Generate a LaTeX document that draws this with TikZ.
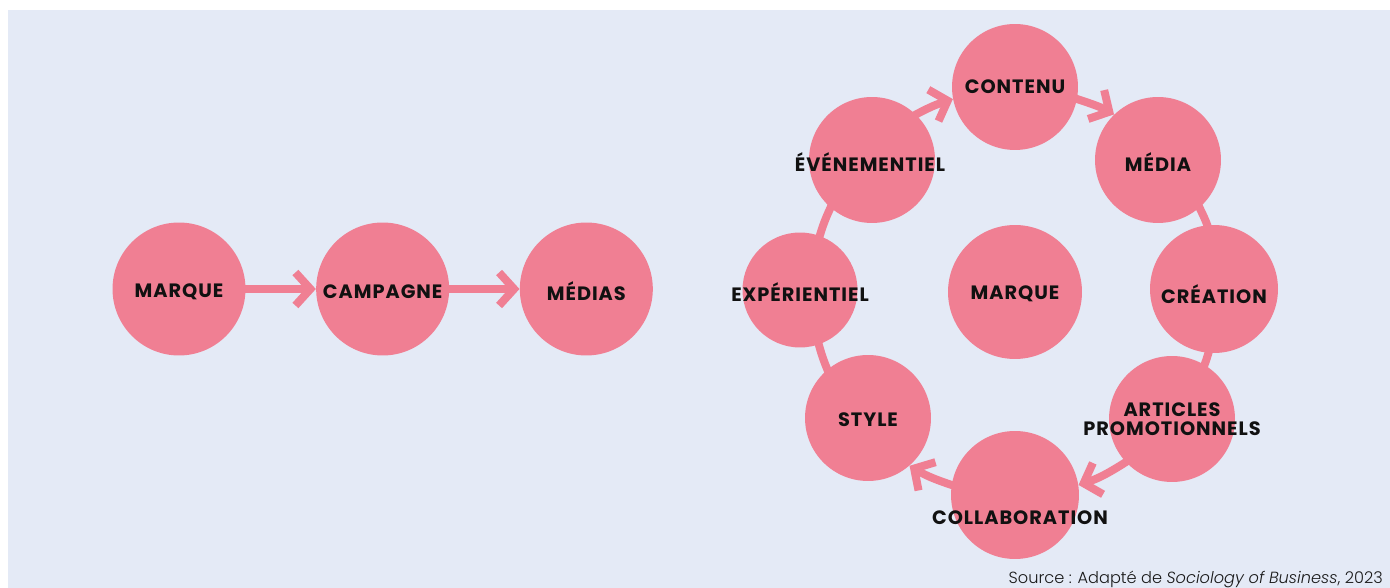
\documentclass[tikz,border=0pt]{standalone}
\usepackage{fontspec}
\setmainfont{Poppins}
\newfontfamily\thinfont{Poppins}[UprightFont=* Light, ItalicFont=* Light Italic]
\usetikzlibrary{positioning, arrows.meta}
\definecolor{rose}{HTML}{F07F93}
\definecolor{panel}{HTML}{E4EAF6}
\definecolor{ink}{HTML}{111111}

\begin{document}
\begin{tikzpicture}[
    x=0.02cm, y=0.02cm,
    disc/.style={circle, fill=rose, inner sep=0pt, minimum size=2.52cm},
    tag/.style={font=\bfseries\fontsize{11}{10.5}\selectfont\addfontfeatures{LetterSpace=5},
      text=ink, align=center, inner sep=0pt},
    link/.style={draw=rose, line width=0.16cm, shorten <=-0.1cm, shorten >=-0.1cm},
    flow/.style={draw=rose, line width=0.16cm, shorten <=-0.1cm,
      -{Straight Barb[length=0.3cm, width=0.66cm, sharp]}}
]
  \useasboundingbox (0,0) rectangle (1390,588);
  \fill[panel] (8,0) rectangle (1390,578);

  % chaine lineaire
  \node[disc, minimum size=2.66cm] (marque) at (179,299) {};
  \node[disc, minimum size=2.66cm, right=1.4cm of marque] (campagne) {};
  \node[disc, minimum size=2.66cm, right=1.4cm of campagne] (medias) {};

  \draw[flow] (marque) -- (campagne);
  \draw[flow] (campagne) -- (medias);

  \node[tag] (marque-l) at ([yshift=-0.06cm]marque) {MARQUE};
  \node[tag] (campagne-l) at ([yshift=-0.06cm]campagne) {CAMPAGNE};
  \node[tag] (medias-l) at ([yshift=-0.04cm]medias) {MÉDIAS};

  % cercle autour de la marque
  \node[disc] (contenu) at (1015,501) {};
  \node[disc] (media) at (1158,428) {};
  \node[disc, minimum size=2.56cm] (creation) at (1214,299) {};
  \node[disc] (articles) at (1172,169) {};
  \node[disc, minimum size=2.56cm] (collab) at (1015,93) {};
  \node[disc] (style) at (868,170) {};
  \node[disc, minimum size=2.3cm] (experientiel) at (800,298) {};
  \node[disc] (evenementiel) at (872,428) {};
  \node[disc, minimum size=2.68cm] (centre) at (1015,296) {};

  % arcs de l'anneau (rayon ~203 autour du centre)
  \draw[flow] (evenementiel.46) to[out=29, in=198] (contenu.191);
  \draw[flow] (contenu.349) to[out=-18, in=151] (media.134);
  \draw[link] (media.311) to[out=-65, in=109] (creation.96);
  \draw[link] (creation.265) to[out=-107, in=69] (articles.59);
  \draw[flow] (articles.223) to[out=-147, in=18] (collab.9);
  \draw[flow] (collab.171) to[out=162, in=-31] (style.311);
  \draw[link] (style.130) to[out=113, in=-75] (experientiel.289);
  \draw[link] (experientiel.70) to[out=74, in=-115] (evenementiel.229);

  \node[tag] (contenu-l) at (contenu) {CONTENU};
  \node[tag] (media-l) at ([yshift=-0.04cm]media) {MÉDIA};
  \node[tag] (creation-l) at ([yshift=-0.1cm]creation) {CRÉATION};
  \node[tag] (articles-l) at (articles) {ARTICLES\\PROMOTIONNELS};
  \node[tag] (collab-l) at ([xshift=0.1cm, yshift=-0.46cm]collab) {COLLABORATION};
  \node[tag] (style-l) at ([yshift=-0.04cm]style) {STYLE};
  \node[tag] (experientiel-l) at ([yshift=-0.04cm]experientiel) {EXPÉRIENTIEL};
  \node[tag] (evenementiel-l) at ([xshift=-0.04cm, yshift=-0.04cm]evenementiel) {ÉVÉNEMENTIEL};
  \node[tag] (centre-l) at ([yshift=-0.04cm]centre) {MARQUE};

  \node[anchor=base east, font=\thinfont\fontsize{9.2}{11}\selectfont, text=black!90] (source)
    at (1389,4) {Source : Adapté de \textit{Sociology of Business}, 2023};
\end{tikzpicture}
\end{document}
